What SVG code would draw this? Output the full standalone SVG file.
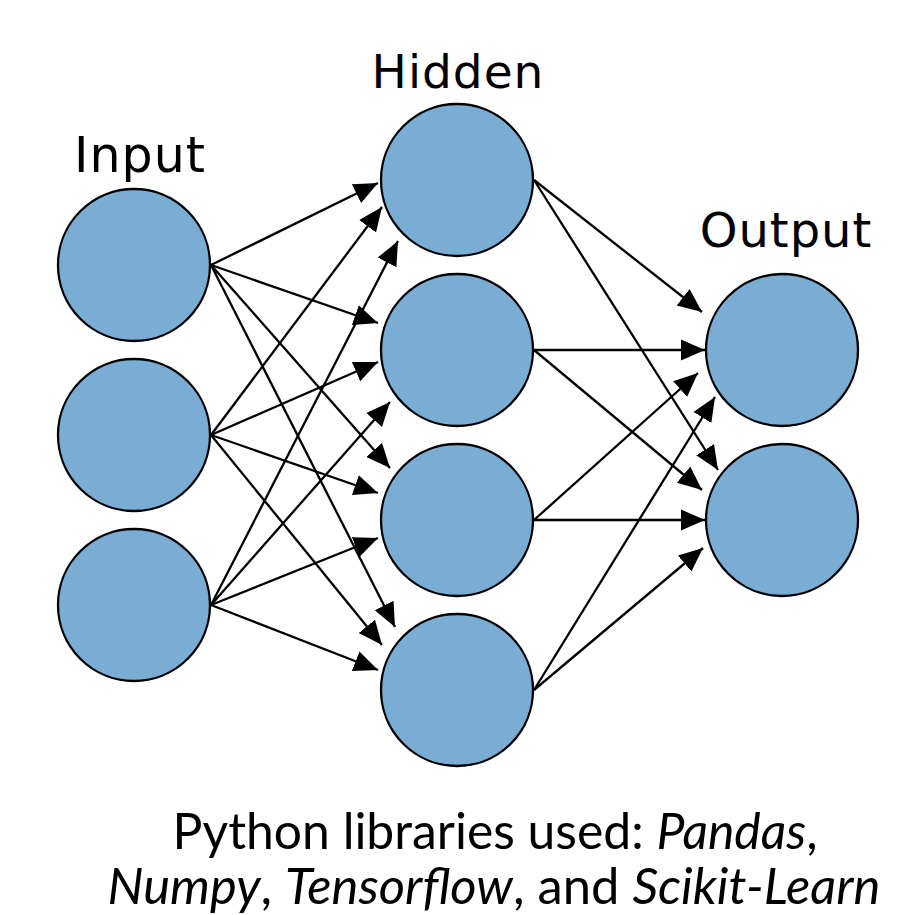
<svg xmlns="http://www.w3.org/2000/svg" width="921" height="915" viewBox="0 0 921 915">
  <style>
    .node { fill: #7aadd4; stroke: #000; stroke-width: 2.3; }
    .lbl { font-family: "DejaVu Sans", sans-serif; fill: #000; text-anchor: middle; letter-spacing: 1px; }
    .edge { stroke: #000; stroke-width: 2.3; fill: none; marker-end: url(#arrow); }
    .cap { font-family: "Lato", "Open Sans", sans-serif; font-size: 50px; fill: #000; text-anchor: middle; }
  </style>
  <defs>
    <marker id="arrow" markerUnits="userSpaceOnUse" markerWidth="26" markerHeight="24" viewBox="0 -12 26 24" refX="24" refY="0" orient="auto">
      <path d="M0,-10.5 L24,0 L0,10.5 z" fill="#000"/>
    </marker>
  </defs>
  <rect width="921" height="915" fill="#fff"/>

  <g id="connectors">
    <line class="edge" x1="211" y1="265" x2="378" y2="183"/>
    <line class="edge" x1="211" y1="265" x2="378" y2="323"/>
    <line class="edge" x1="211" y1="265" x2="390" y2="468"/>
    <line class="edge" x1="211" y1="265" x2="395" y2="627"/>
    <line class="edge" x1="211" y1="435" x2="382" y2="207"/>
    <line class="edge" x1="211" y1="435" x2="378" y2="362"/>
    <line class="edge" x1="211" y1="435" x2="378" y2="493"/>
    <line class="edge" x1="211" y1="435" x2="382" y2="645"/>
    <line class="edge" x1="211" y1="605" x2="398" y2="241"/>
    <line class="edge" x1="211" y1="605" x2="390" y2="402"/>
    <line class="edge" x1="211" y1="605" x2="378" y2="538"/>
    <line class="edge" x1="211" y1="605" x2="378" y2="670"/>
    <line class="edge" x1="534" y1="180" x2="702" y2="312"/>
    <line class="edge" x1="534" y1="180" x2="718" y2="470"/>
    <line class="edge" x1="534" y1="350" x2="705" y2="350"/>
    <line class="edge" x1="534" y1="350" x2="702" y2="490"/>
    <line class="edge" x1="534" y1="520" x2="698" y2="373"/>
    <line class="edge" x1="534" y1="520" x2="705" y2="520"/>
    <line class="edge" x1="534" y1="690" x2="715" y2="397"/>
    <line class="edge" x1="534" y1="690" x2="703" y2="548"/>
  </g>

  <g id="input1"><circle class="node" cx="134" cy="265" r="76"/></g>
  <g id="input2"><circle class="node" cx="134" cy="435" r="76"/></g>
  <g id="input3"><circle class="node" cx="134" cy="605" r="76"/></g>
  <g id="hidden1"><circle class="node" cx="457" cy="180" r="76"/></g>
  <g id="hidden2"><circle class="node" cx="457" cy="350" r="76"/></g>
  <g id="hidden3"><circle class="node" cx="457" cy="520" r="76"/></g>
  <g id="hidden4"><circle class="node" cx="457" cy="690" r="76"/></g>
  <g id="output1"><circle class="node" cx="782" cy="350" r="76"/></g>
  <g id="output2"><circle class="node" cx="782" cy="520" r="76"/></g>

  <g id="labels">
    <text class="lbl" x="140" y="172" font-size="49">Input</text>
    <text class="lbl" x="458" y="88" font-size="47">Hidden</text>
    <text class="lbl" x="786" y="247" font-size="48">Output</text>
  </g>

  <g id="caption">
    <text class="cap" x="495" y="849" textLength="645" lengthAdjust="spacingAndGlyphs">Python libraries used: <tspan font-style="italic">Pandas</tspan>,</text>
    <text class="cap" x="494" y="904" textLength="773" lengthAdjust="spacingAndGlyphs"><tspan font-style="italic">Numpy</tspan>, <tspan font-style="italic">Tensorflow</tspan>, and <tspan font-style="italic">Scikit-Learn</tspan></text>
  </g>
</svg>
